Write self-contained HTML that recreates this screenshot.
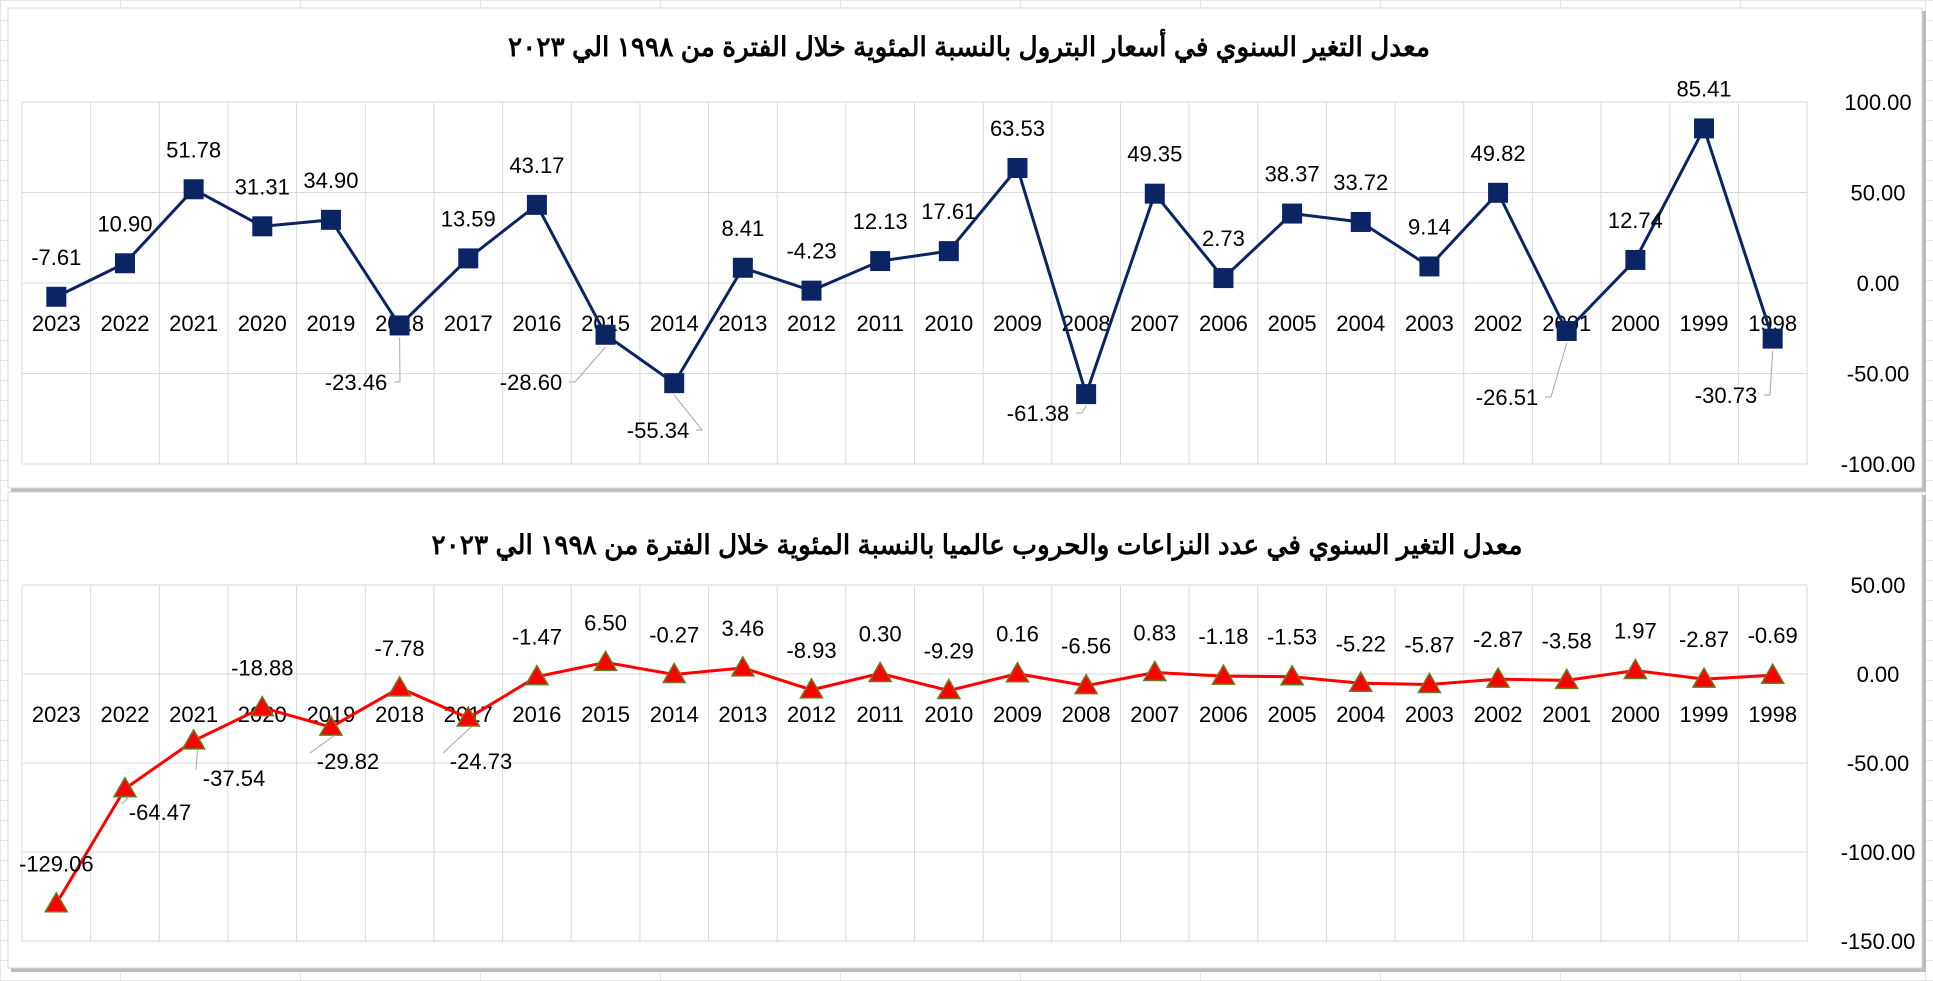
<!DOCTYPE html>
<html><head><meta charset="utf-8">
<style>
html,body{margin:0;padding:0;background:#fff;}
svg{display:block;}
</style></head>
<body>
<svg id="s" width="1933" height="981" xmlns="http://www.w3.org/2000/svg" font-family="'Liberation Sans','Noto Sans CJK SC',sans-serif">
</svg>
<script>
const S=document.getElementById('s');let h='';
for(let y=0;y<981;y+=20)h+=`<line x1="0" y1="${y+.5}" x2="1933" y2="${y+.5}" stroke="#e6e6e6"/>`;
[0,120,300,480,660,840,1020,1200,1380,1560,1740,1925].forEach(x=>h+=`<line x1="${x+.5}" y1="0" x2="${x+.5}" y2="981" stroke="#e6e6e6"/>`);
h+=`<rect x="11" y="11" width="1915" height="481" fill="#bbb"/><rect x="8" y="8" width="1914" height="480" fill="#fff" stroke="#d9d9d9"/>`;
h+=`<rect x="11" y="495" width="1915" height="477" fill="#bbb"/><rect x="8" y="492" width="1914" height="476" fill="#fff" stroke="#d9d9d9"/>`;
const years=[];for(let y=2023;y>=1998;y--)years.push(y);
const L=22,R=1807,cw=(R-L)/26;
function cx(i){return L+cw*(i+.5);}
function chart(o){
  o.ticks.forEach(t=>{const y=o.zero-t*o.k;h+=`<line x1="${L}" y1="${y}" x2="${R}" y2="${y}" stroke="#d9d9d9" stroke-width="1"/>`;
    h+=`<text x="1878" y="${y+8}" font-size="22" text-anchor="middle" fill="#000">${t.toFixed(2)}</text>`;});
  for(let i=0;i<=26;i++){const x=L+cw*i;h+=`<line x1="${x}" y1="${o.top}" x2="${x}" y2="${o.bot}" stroke="#d9d9d9"/>`;}
  h+=`<text x="${o.tx}" y="${o.ty}" font-size="27" font-weight="bold" text-anchor="middle" direction="rtl" textLength="${o.tw}" lengthAdjust="spacingAndGlyphs">${o.title}</text>`;
  years.forEach((y,i)=>h+=`<text x="${cx(i)}" y="${o.cy}" font-size="22" text-anchor="middle">${y}</text>`);
  const pts=o.v.map((v,i)=>[cx(i),o.zero-v*o.k]);
  h+=`<polyline points="${pts.map(p=>p.join(',')).join(' ')}" fill="none" stroke="${o.col}" stroke-width="3"/>`;
  pts.forEach(p=>{
    if(o.sq)h+=`<rect x="${p[0]-10}" y="${p[1]-10}" width="20" height="20" fill="#0b2463"/>`;
    else h+=`<polygon points="${p[0]},${p[1]-11} ${p[0]+11},${p[1]+8} ${p[0]-11},${p[1]+8}" fill="#ff0000" stroke="#6b7a1f" stroke-width="1.5"/>`;
  });
  o.v.forEach((v,i)=>{
    let x=cx(i),y=pts[i][1]-40,sp=o.sp[i];
    if(sp){x=sp[0];y=sp[1];
      if(x<pts[i][0]) h+=`<polyline points="${x+38},${y} ${x+44},${y} ${pts[i][0]},${pts[i][1]+12}" fill="none" stroke="#a6a6a6" stroke-width="1"/>`;
      else h+=`<polyline points="${x-38},${y-8} ${pts[i][0]+4},${pts[i][1]+8}" fill="none" stroke="#a6a6a6" stroke-width="1"/>`;}
    h+=`<text x="${x}" y="${y+8}" font-size="22" text-anchor="middle">${v.toFixed(2)}</text>`;
  });
}
chart({v:[-7.61,10.90,51.78,31.31,34.90,-23.46,13.59,43.17,-28.60,-55.34,8.41,-4.23,12.13,17.61,63.53,-61.38,49.35,2.73,38.37,33.72,9.14,49.82,-26.51,12.74,85.41,-30.73],
 zero:283,k:1.81,ticks:[100,50,0,-50,-100],top:102,bot:464,cy:331,col:'#0b2463',sq:1,
 title:'معدل التغير السنوي في أسعار البترول بالنسبة المئوية خلال الفترة من ١٩٩٨ الي ٢٠٢٣',tx:969,ty:56,tw:922,
 sp:{5:[356,382],8:[531,382],9:[658,430],15:[1038,413],22:[1507,397],25:[1726,395]}});
chart({v:[-129.06,-64.47,-37.54,-18.88,-29.82,-7.78,-24.73,-1.47,6.50,-0.27,3.46,-8.93,0.30,-9.29,0.16,-6.56,0.83,-1.18,-1.53,-5.22,-5.87,-2.87,-3.58,1.97,-2.87,-0.69],
 zero:674,k:1.78,ticks:[50,0,-50,-100,-150],top:586,bot:942,cy:722,col:'#ff0000',sq:0,
 title:'معدل التغير السنوي في عدد النزاعات والحروب عالميا بالنسبة المئوية خلال الفترة من ١٩٩٨ الي ٢٠٢٣',tx:977,ty:554,tw:1091,
 sp:{1:[160,812],2:[234,778],4:[348,761],6:[481,761]}});
S.innerHTML=h;
</script>
</body></html>
